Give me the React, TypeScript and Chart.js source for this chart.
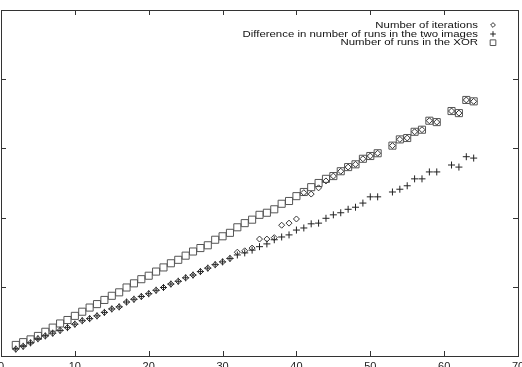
import React, { useEffect, useRef } from "react";
import { Chart, registerables } from "chart.js";
import { drawPoint } from "chart.js/helpers";

Chart.register(...registerables);

const xValues = [
  2, 3, 4, 5, 6, 7, 8, 9, 10, 11, 12, 13, 14, 15, 16, 17, 18, 19, 20, 21, 22, 23, 24, 25, 26,
  27, 28, 29, 30, 31, 32, 33, 34, 35, 36, 37, 38, 39, 40, 41, 42, 43, 44, 45, 46, 47, 48, 49, 50,
  51, 53, 54, 55, 56, 57, 58, 59, 61, 62, 63, 64,
];

const iterations = [
  10, 14, 19, 25, 29, 33, 37, 41, 46, 51, 54, 58, 63, 68, 71, 78, 82, 86, 90, 95, 99, 104, 108, 113, 117,
  122, 127, 132, 136, 141, 150, 152, 156, 169, 169, 171, 189, 192, 198, 236, 234, 243, 253, 260, 267, 273, 277, 285, 289,
  293, 304, 313, 315, 324, 327, 340, 338, 354, 351, 370, 368,
];

const runDifference = [
  10, 14, 19, 25, 29, 33, 37, 41, 46, 51, 54, 58, 63, 68, 71, 78, 82, 86, 90, 95, 99, 104, 108, 113, 117,
  122, 127, 132, 136, 141, 146, 149, 153, 158, 162, 168, 172, 175, 182, 185, 191, 192, 199, 204, 207, 212, 215, 221, 230,
  230, 237, 241, 246, 256, 256, 266, 266, 276, 273, 288, 286,
];

const xorRuns = [
  16, 20, 24, 29, 35, 41, 47, 52, 58, 64, 70, 75, 81, 87, 92, 99, 105, 111, 116, 122, 128, 134, 139, 145, 151,
  156, 160, 168, 173, 178, 186, 192, 197, 204, 207, 212, 220, 224, 231, 237, 244, 250, 256, 260, 267, 273, 277, 285, 289,
  293, 304, 313, 315, 324, 327, 340, 338, 354, 351, 370, 368,
];

const seriesLabels = [
  "Number of iterations",
  "Difference in number of runs in the two images",
  "Number of runs in the XOR",
];

const xTicks = [0, 10, 20, 30, 40, 50, 60, 70];
const yTicks = [0, 100, 200, 300, 400, 500];

const toPoints = (ys: number[]) => xValues.map((x, i) => ({ x, y: ys[i] }));

const FONT = "'Liberation Sans', Arial, sans-serif";

const framePlugin = {
  id: "gnuplotFrame",
  beforeDatasetsDraw(chart: any) {
    const { ctx, chartArea: a, scales } = chart;
    ctx.save();
    ctx.strokeStyle = "#333";
    ctx.lineWidth = 1;
    ctx.strokeRect(a.left + 0.5, a.top + 0.5, a.right - a.left, a.bottom - a.top);
    const len = 5;
    ctx.beginPath();
    xTicks.slice(1, -1).forEach((t) => {
      const px = Math.round(scales.x.getPixelForValue(t)) + 0.5;
      ctx.moveTo(px, a.bottom);
      ctx.lineTo(px, a.bottom - len);
      ctx.moveTo(px, a.top);
      ctx.lineTo(px, a.top + len);
    });
    yTicks.slice(1, -1).forEach((t) => {
      const py = Math.round(scales.y.getPixelForValue(t)) + 0.5;
      ctx.moveTo(a.left, py);
      ctx.lineTo(a.left + len, py);
      ctx.moveTo(a.right, py);
      ctx.lineTo(a.right - len, py);
    });
    ctx.stroke();
    ctx.fillStyle = "#222";
    ctx.font = `11px ${FONT}`;
    ctx.textAlign = "center";
    ctx.textBaseline = "alphabetic";
    xTicks.forEach((t) => {
      ctx.fillText(String(t), scales.x.getPixelForValue(t), a.bottom + 14);
    });
    ctx.restore();
  },
};

const legendPlugin = {
  id: "gnuplotLegend",
  afterDraw(chart: any) {
    const { ctx } = chart;
    const rows = [25, 34, 42.7];
    chart.data.datasets.forEach((ds: any, i: number) => {
      const y = rows[i];
      ctx.save();
      ctx.translate(478, y);
      ctx.scale(1.2, 1);
      ctx.font = `9.5px ${FONT}`;
      ctx.fillStyle = "#111";
      ctx.textAlign = "right";
      ctx.textBaseline = "middle";
      ctx.fillText(ds.label, 0, 0);
      ctx.restore();
      ctx.save();
      ctx.strokeStyle = ds.borderColor;
      ctx.fillStyle = "rgba(0,0,0,0)";
      ctx.lineWidth = 1;
      drawPoint(ctx, { pointStyle: ds.pointStyle, radius: ds.pointRadius * 0.8, rotation: 0, borderWidth: 1 }, 493, y);
      ctx.restore();
    });
  },
};

export default function App() {
  const ref = useRef<HTMLCanvasElement | null>(null);
  useEffect(() => {
    document.body.style.margin = "0";
    if (!ref.current) return;
    const chart = new Chart(ref.current, {
      type: "scatter",
      data: {
        datasets: [
          {
            label: seriesLabels[0],
            data: toPoints(iterations),
            pointStyle: "rectRot",
            pointRadius: 3,
            borderColor: "#333",
            backgroundColor: "rgba(0,0,0,0)",
            borderWidth: 1,
          },
          {
            label: seriesLabels[1],
            data: toPoints(runDifference),
            pointStyle: "cross",
            pointRadius: 3.5,
            borderColor: "#222",
            backgroundColor: "rgba(0,0,0,0)",
            borderWidth: 1,
          },
          {
            label: seriesLabels[2],
            data: toPoints(xorRuns),
            pointStyle: "rect",
            pointRadius: 5,
            borderColor: "#555",
            backgroundColor: "rgba(0,0,0,0)",
            borderWidth: 1,
          },
        ],
      },
      options: {
        animation: false,
        responsive: false,
        layout: { autoPadding: false, padding: { left: 1, right: 4, top: 10, bottom: 11 } },
        plugins: { legend: { display: false }, tooltip: { enabled: false } },
        scales: {
          x: { type: "linear", min: 0, max: 70, display: false },
          y: { type: "linear", min: 0, max: 500, display: false },
        },
      },
      plugins: [framePlugin, legendPlugin],
    });
    return () => chart.destroy();
  }, []);
  return (
    <div style={{ position: "absolute", left: 0, top: 0, width: 522, height: 367 }}>
      <canvas ref={ref} width={522} height={367} />
    </div>
  );
}
